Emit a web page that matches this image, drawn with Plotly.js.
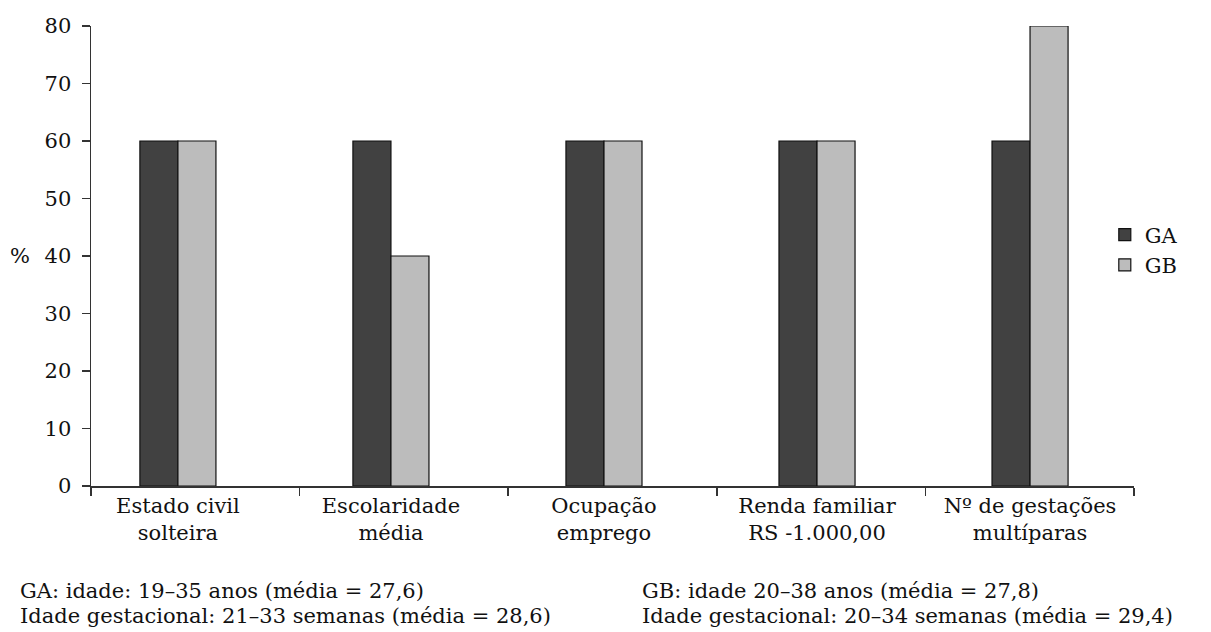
<!DOCTYPE html>
<html>
<head>
<meta charset="utf-8">
<script src="https://cdn.plot.ly/plotly-3.0.1.min.js"></script>
<style>html,body{margin:0;padding:0;background:#fff;}</style>
</head>
<body>
<div id="chart" style="width:1211px;height:632px;"></div>
<script>
var categories = ["Estado civil<br>solteira", "Escolaridade<br>média", "Ocupação<br>emprego", "Renda familiar<br>RS -1.000,00", "Nº de gestações<br>multíparas"];
var gaValues = [60, 60, 60, 60, 60];
var gbValues = [60, 40, 60, 60, 80];
var yTicks = [0, 10, 20, 30, 40, 50, 60, 70, 80];
var boundaryTicks = [0, 1, 2, 3, 4, 5];
var noteGA = ["GA: idade: 19–35 anos (média = 27,6)", "Idade gestacional: 21–33 semanas (média = 28,6)"];
var noteGB = ["GB: idade 20–38 anos (média = 27,8)", "Idade gestacional: 20–34 semanas (média = 29,4)"];

var FONT = "DejaVu Serif";
var fontBase = {family: FONT, size: 21, color: "#111"};

var traces = [
  {type: "bar", name: "GA", x: categories, y: gaValues,
   marker: {color: "#414141", line: {color: "#111", width: 1.2}}},
  {type: "bar", name: "GB", x: categories, y: gbValues,
   marker: {color: "#bcbcbc", line: {color: "#111", width: 1.2}}},
  {type: "scatter", x: [0, 5], y: [null, null], xaxis: "x2", yaxis: "y",
   showlegend: false, hoverinfo: "skip", mode: "lines"}
];

var annotations = [
  {text: "%", xref: "paper", yref: "y", x: -0.08, y: 40, xanchor: "left",
   showarrow: false, font: fontBase}
];
var noteY = [591, 616];
function addNotes(lines, xPaper) {
  for (var i = 0; i < lines.length; i++) {
    annotations.push({text: lines[i], xref: "paper", yref: "paper", x: xPaper,
      y: -(noteY[i] - 486) / 460, xanchor: "left", yanchor: "middle",
      align: "left", showarrow: false, font: fontBase});
  }
}
addNotes(noteGA, -0.07);
addNotes(noteGB, 0.526);

var layout = {
  width: 1211, height: 632,
  margin: {l: 91, r: 77, t: 26, b: 146},
  paper_bgcolor: "#fff", plot_bgcolor: "#fff",
  font: fontBase,
  barmode: "group", bargap: 0.643, bargroupgap: 0,
  showlegend: true,
  legend: {x: 0.972, xanchor: "left", y: 0.513, yanchor: "middle",
           font: {family: FONT, size: 21, color: "#111"},
           tracegroupgap: 0, bgcolor: "rgba(0,0,0,0)"},
  xaxis: {type: "category", range: [-0.408, 4.488], showline: false, ticks: "",
          showgrid: false, zeroline: false, tickfont: fontBase, fixedrange: true,
          ticklabelstandoff: 5},
  xaxis2: {overlaying: "x", anchor: "y", side: "bottom", range: [0, 5],
           tickvals: boundaryTicks, showticklabels: false, ticks: "outside",
           ticklen: 8, tickwidth: 1.5, tickcolor: "#333", showline: true,
           linecolor: "#333", linewidth: 1.5, showgrid: false, zeroline: false},
  yaxis: {range: [0, 80], tickvals: yTicks, ticks: "outside", ticklen: 8,
          tickwidth: 1.5, tickcolor: "#333", showline: true, linecolor: "#333",
          linewidth: 1.5, showgrid: false, zeroline: false, tickfont: fontBase,
          ticklabelstandoff: 6},
  annotations: annotations
};

Plotly.newPlot("chart", traces, layout, {displayModeBar: false, staticPlot: true});
</script>
</body>
</html>
